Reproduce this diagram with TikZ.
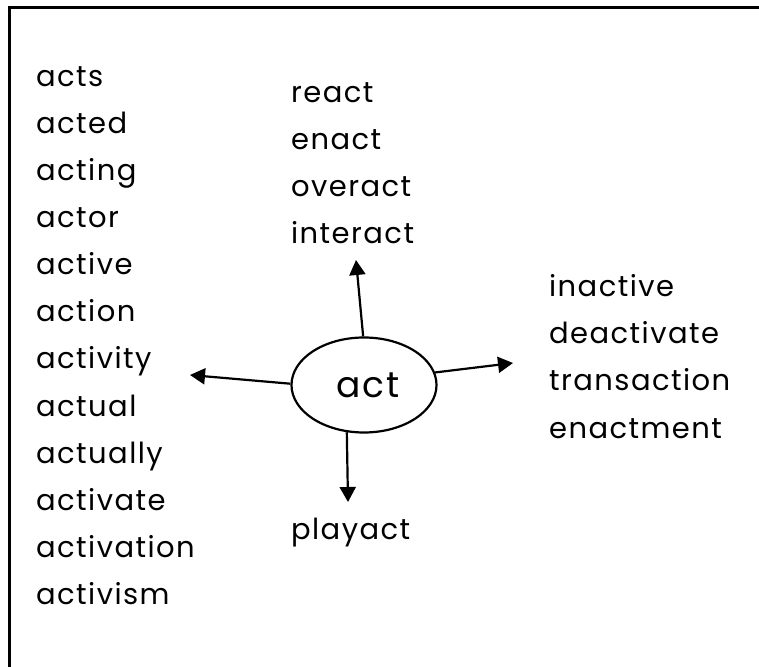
\documentclass[tikz,border=0pt]{standalone}
\usepackage{fontspec}
\setmainfont{Poppins}[LetterSpace=5]
\usetikzlibrary{arrows.meta,shapes.geometric}
\begin{document}
\begin{tikzpicture}[x=0.5pt, y=-0.5pt, font=\fontsize{14.5}{17}\selectfont, >={Triangle[length=7.5pt,width=8pt]}, line width=1.1pt,
	word/.style={anchor=base west, inner sep=0pt}]
	\useasboundingbox (0,0) rectangle (759,667);
	\draw[line width=1.5pt] (9,667) |- (759,8);
	\foreach \w [count=\i from 0] in {acts,acted,acting,actor,active,action,activity,actual,actually,activate,activation,activism}
		\node[word] (left\i) at (35,87+47*\i) {\w};
	\foreach \w [count=\i from 0] in {react,enact,overact,interact}
		\node[word] (top\i) at (290,103+46.7*\i) {\w};
	\foreach \w [count=\i from 0] in {inactive,deactivate,transaction,enactment}
		\node[word] (right\i) at (548,297+47*\i) {\w};
	\node[word] (bottom) at (290,539) {playact};
	\node[draw, ellipse, minimum width=72.5pt, minimum height=47.5pt, inner sep=0pt, font=\fontsize{18}{20}\selectfont] (root) at (364,385) {\hspace{4pt}act};
	\coordinate (up) at (356,260);
	\coordinate (rt) at (513,363);
	\coordinate (lt) at (190,375);
	\coordinate (dn) at (348,502);
	\draw[->] (root.91)--(up);
	\draw[->] (root.10)--(rt);
	\draw[->] (root.179)--(lt);
	\draw[->] (root.250)--(dn);
\end{tikzpicture}
\end{document}
